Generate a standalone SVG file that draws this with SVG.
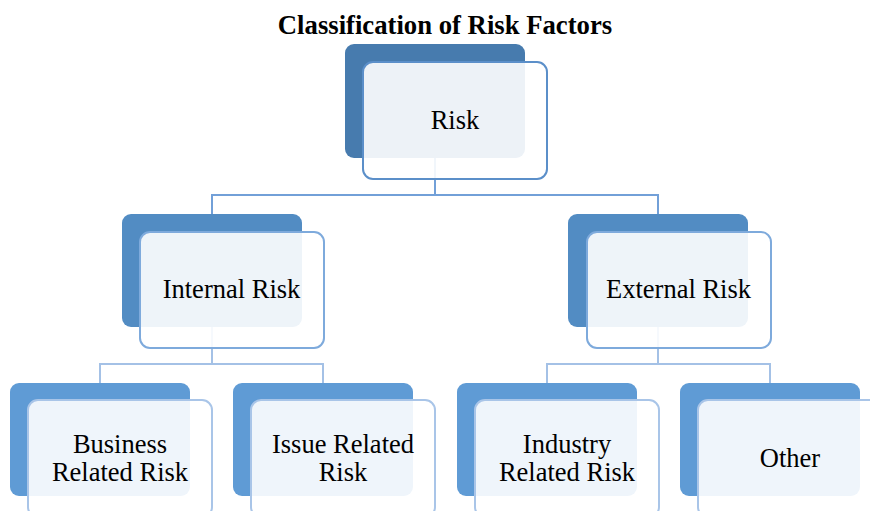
<svg xmlns="http://www.w3.org/2000/svg" width="870" height="511" viewBox="0 0 870 511">
<style>
.title{font-family:"Liberation Serif","Times New Roman",serif;font-weight:bold;font-size:26.7px;fill:#000}
.lbl{font-family:"Liberation Serif","Times New Roman",serif;font-size:26.5px;fill:#000;text-anchor:middle}
.front{fill:#fff;fill-opacity:0.9;stroke-width:2}
.c1{stroke:#72a0d8;stroke-width:2;fill:none}
.c2{stroke:#a4c1e6;stroke-width:2;fill:none}
.l0 .back{fill:#477bae}.l0 .front{stroke:#5b8fc9}
.l1 .back{fill:#528cc3}.l1 .front{stroke:#7eaadc}
.l2 .back{fill:#5f9bd5}.l2 .front{stroke:#a9c5e8}
</style>
<rect width="870" height="511" fill="#fff"/>
<text class="title" x="445" y="34" text-anchor="middle">Classification of Risk Factors</text>
<g id="connectors">
<path class="c1" d="M435 158V195M212 214V195H658V214"/>
<path class="c2" d="M212 327V364M100 383V364H323V383"/>
<path class="c2" d="M658 327V364M547 383V364H770V383"/>
</g>
<g id="risk" class="l0">
<rect class="back" x="345" y="44" width="180" height="114" rx="9"/>
<rect class="front" x="363" y="62" width="184" height="117" rx="10"/>
<text class="lbl" x="455" y="129">Risk</text>
</g>
<g id="internal" class="l1">
<rect class="back" x="122" y="214" width="180" height="113" rx="9"/>
<rect class="front" x="140" y="232" width="184" height="116" rx="10"/>
<text class="lbl" x="231.5" y="298">Internal Risk</text>
</g>
<g id="external" class="l1">
<rect class="back" x="568" y="214" width="180" height="113" rx="9"/>
<rect class="front" x="587" y="232" width="184" height="116" rx="10"/>
<text class="lbl" x="678.5" y="298">External Risk</text>
</g>
<g id="business" class="l2">
<rect class="back" x="10" y="383" width="180" height="113" rx="9"/>
<rect class="front" x="28" y="400" width="184" height="117" rx="10"/>
<text class="lbl" x="120" y="453">Business</text>
<text class="lbl" x="120" y="481">Related Risk</text>
</g>
<g id="issue" class="l2">
<rect class="back" x="233" y="383" width="180" height="113" rx="9"/>
<rect class="front" x="251" y="400" width="184" height="117" rx="10"/>
<text class="lbl" x="343" y="453">Issue Related</text>
<text class="lbl" x="343" y="481">Risk</text>
</g>
<g id="industry" class="l2">
<rect class="back" x="457" y="383" width="180" height="113" rx="9"/>
<rect class="front" x="475" y="400" width="184" height="117" rx="10"/>
<text class="lbl" x="567" y="453">Industry</text>
<text class="lbl" x="567" y="481">Related Risk</text>
</g>
<g id="other" class="l2">
<rect class="back" x="680" y="383" width="180" height="113" rx="9"/>
<rect class="front" x="698" y="400" width="184" height="117" rx="10"/>
<text class="lbl" x="790" y="467">Other</text>
</g>
</svg>
